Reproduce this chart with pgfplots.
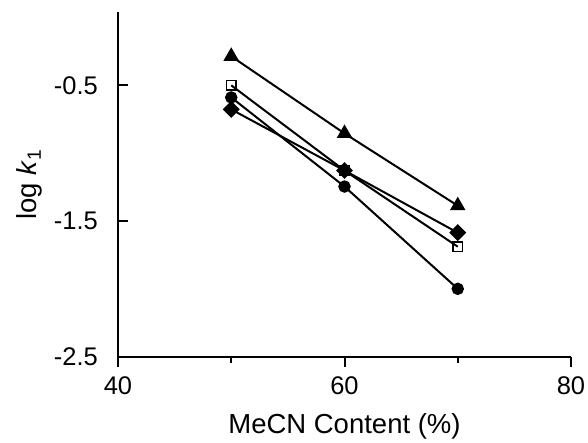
\documentclass[border=0pt]{standalone}
\usepackage{fontspec}
\setmainfont{Liberation Sans}
\usepackage{pgfplots}
\pgfplotsset{compat=1.18}
\newcommand{\tickfont}{\fontsize{25.5pt}{29pt}\selectfont}
\newcommand{\labfont}{\fontsize{27.5pt}{31pt}\selectfont}
\begin{document}
\begin{tikzpicture}
\begin{axis}[
    scale only axis,
    width=453pt, height=345pt,
    xmin=40, xmax=80, ymin=-2.5, ymax=0.04,
    axis x line*=bottom, axis y line*=left,
    axis line style={-, line width=2pt},
    xtick={40,60,80}, minor xtick={50,70},
    ytick={-2.5,-1.5,-0.5},
    xtick pos=bottom, ytick pos=left,
    xtick align=outside, ytick align=inside,
    major tick length=9.5pt, minor tick length=6pt,
    tick style={line width=2pt, black},
    xticklabels={\tickfont 40, \tickfont 60, \tickfont 80},
    yticklabels={\tickfont -2.5, \tickfont -1.5, \tickfont -0.5},
    yticklabel style={anchor=east, inner sep=0pt, xshift=-20pt},
    xticklabel style={anchor=north, inner sep=0pt, yshift=-10pt},
    xlabel={\labfont MeCN Content (\%)},
    ylabel={\labfont log \textit{k}\textsubscript{1}},
    label style={inner sep=0pt},
    xlabel style={at={(axis description cs:0.5,-0.1623)}, anchor=north},
    ylabel style={at={(axis description cs:-0.1678,0.5)}, anchor=south},
    every axis plot/.append style={line width=2pt, black},
    clip=false,
]
% triangles
\addplot[mark=triangle*, mark size=7pt, mark options={solid, fill=black}] coordinates {(50,-0.286) (60,-0.854) (70,-1.386)};
% open squares
\addplot[mark=square, mark size=4.8pt, mark options={solid, fill=white, line width=1.5pt}] coordinates {(50,-0.500) (60,-1.127) (70,-1.688)};
% circles
\addplot[mark=*, mark size=5.2pt, mark options={solid, fill=black}] coordinates {(50,-0.589) (60,-1.245) (70,-1.998)};
% diamonds
\addplot[mark=square*, mark size=5pt, mark options={solid, fill=black, rotate=45}] coordinates {(50,-0.677) (60,-1.127) (70,-1.585)};
\path (rel axis cs:0,0) ++(-118pt,-86pt) rectangle ++(588pt,443pt);
\end{axis}
\end{tikzpicture}
\end{document}
